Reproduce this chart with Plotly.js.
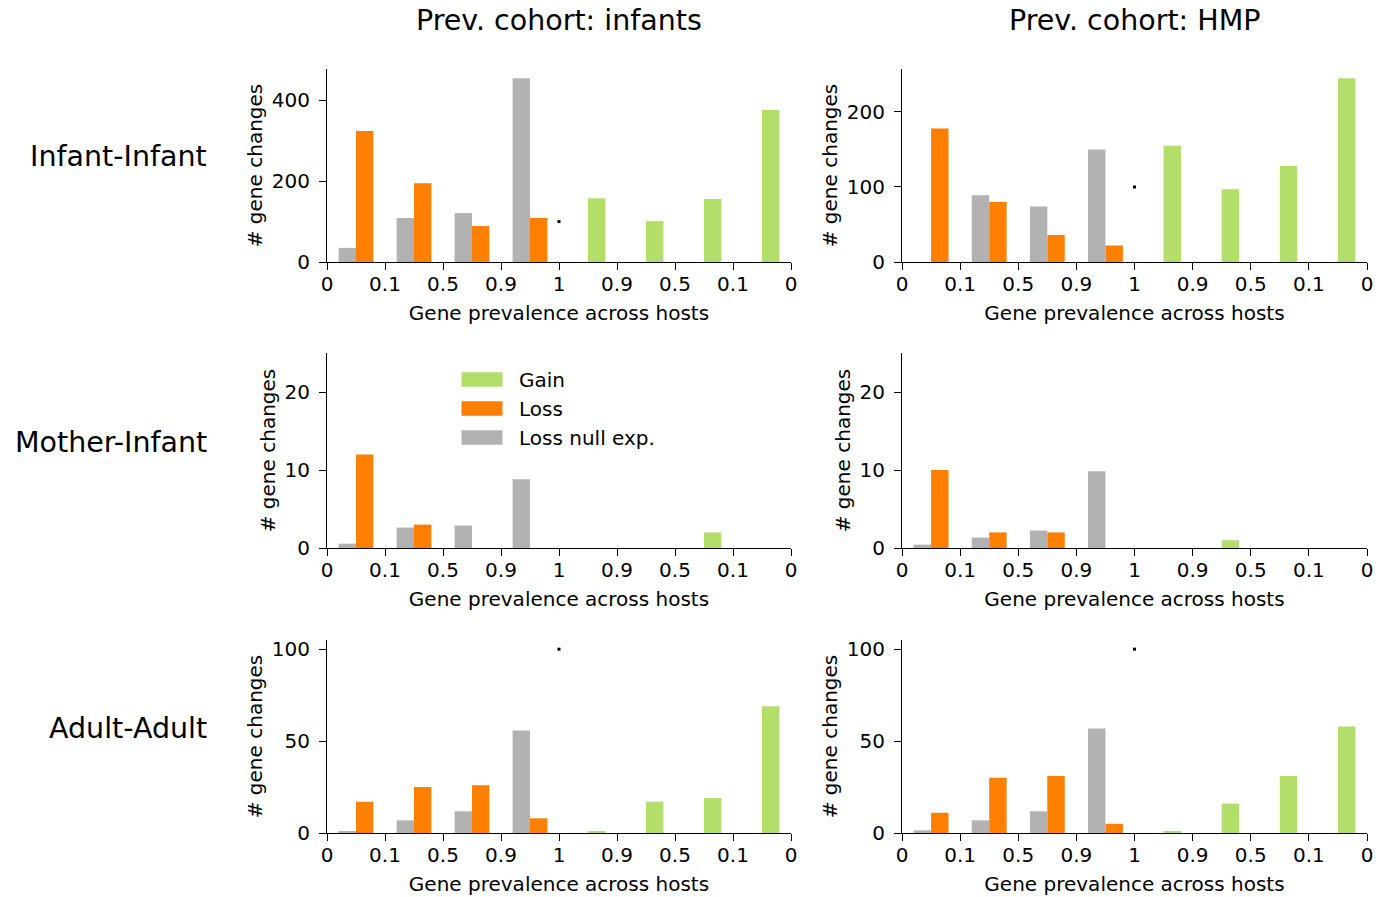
<!DOCTYPE html>
<html>
<head>
<meta charset="utf-8">
<script src="https://cdn.plot.ly/plotly-3.0.1.min.js"></script>
<style>
  html, body { margin: 0; padding: 0; background: #fff; }
  #chart { width: 1388px; height: 897px; }
</style>
</head>
<body>
<div id="chart"></div>
<script>
// Prevalence bins: tick labels run 0 -> 1 -> 0 (loss side, then gain side)
const binLabels = ['0', '0.1', '0.5', '0.9', '1', '0.9', '0.5', '0.1', '0'];
const binTicks = [0, 1, 2, 3, 4, 5, 6, 7, 8];
const lossBins = [0, 1, 2, 3];
const gainBins = [4, 5, 6, 7];

// Reference marker drawn in every panel
const markX = [4];
const markY = [100];

// Infant-Infant, prevalence cohort: infants
const gainII_inf = [158, 101, 156, 376];
const lossII_inf = [324, 195, 89, 109];
const nullII_inf = [35, 109, 121, 455];

// Infant-Infant, prevalence cohort: HMP
const gainII_hmp = [155, 97, 128, 245];
const lossII_hmp = [178, 80, 36, 22];
const nullII_hmp = [0, 89, 74, 150];

// Mother-Infant, prevalence cohort: infants
const gainMI_inf = [0, 0, 2, 0];
const lossMI_inf = [12, 3, 0, 0];
const nullMI_inf = [0.56, 2.62, 2.88, 8.82];

// Mother-Infant, prevalence cohort: HMP
const gainMI_hmp = [0, 1, 0, 0];
const lossMI_hmp = [10, 2, 2, 0];
const nullMI_hmp = [0.43, 1.33, 2.24, 9.85];

// Adult-Adult, prevalence cohort: infants
const gainAA_inf = [1, 17, 19, 69];
const lossAA_inf = [17, 25, 26, 8];
const nullAA_inf = [0.9, 6.9, 11.8, 55.8];

// Adult-Adult, prevalence cohort: HMP
const gainAA_hmp = [1, 16, 31, 58];
const lossAA_hmp = [11, 30, 31, 5];
const nullAA_hmp = [1.45, 6.9, 11.8, 56.9];

const colTitles = ['Prev. cohort: infants', 'Prev. cohort: HMP'];
const rowTitles = ['Infant-Infant', 'Mother-Infant', 'Adult-Adult'];

const COLORS = { gain: '#b3de69', loss: '#ff7f00', nul: '#b2b2b2' };
const FONT = 'DejaVu Sans';

// Panel table, row-major
const panels = [
  { gain: gainII_inf, loss: lossII_inf, nul: nullII_inf, dtick: 200, ymax: null },
  { gain: gainII_hmp, loss: lossII_hmp, nul: nullII_hmp, dtick: 100, ymax: null },
  { gain: gainMI_inf, loss: lossMI_inf, nul: nullMI_inf, dtick: 10, ymax: 25 },
  { gain: gainMI_hmp, loss: lossMI_hmp, nul: nullMI_hmp, dtick: 10, ymax: 25 },
  { gain: gainAA_inf, loss: lossAA_inf, nul: nullAA_inf, dtick: 50, ymax: null },
  { gain: gainAA_hmp, loss: lossAA_hmp, nul: nullAA_hmp, dtick: 50, ymax: null }
];

// Pixel frame of the subplot grid
const W = 1388, H = 897;
const colPx = [[327, 791], [902, 1367]];
const rowPx = [[69, 262], [353, 548], [640, 833]];

const BAR_W = 0.3;
const traces = [];
const layout = {
  width: W, height: H,
  margin: { l: 0, r: 0, t: 0, b: 0 },
  paper_bgcolor: '#fff', plot_bgcolor: '#fff',
  font: { family: FONT, size: 20, color: '#000' },
  barmode: 'overlay',
  showlegend: true,
  legend: {
    x: 445 / W, y: 1 - 360 / H, xanchor: 'left', yanchor: 'top',
    bgcolor: 'rgba(0,0,0,0)', borderwidth: 0,
    font: { family: FONT, size: 20, color: '#000' },
    itemwidth: 64, traceorder: 'normal'
  },
  annotations: [],
  shapes: []
};

panels.forEach((p, k) => {
  const r = Math.floor(k / 2), c = k % 2;
  const n = k + 1;
  const xa = n === 1 ? 'x' : 'x' + n;
  const ya = n === 1 ? 'y' : 'y' + n;
  const first = k === 0;

  traces.push({
    type: 'bar', name: 'Gain', legendgroup: 'gain', showlegend: first,
    x: gainBins, y: p.gain, offset: 0.5, width: BAR_W,
    marker: { color: COLORS.gain, line: { width: 0 } },
    xaxis: xa, yaxis: ya, hoverinfo: 'y'
  });
  traces.push({
    type: 'bar', name: 'Loss', legendgroup: 'loss', showlegend: first,
    x: lossBins, y: p.loss, offset: 0.5, width: BAR_W,
    marker: { color: COLORS.loss, line: { width: 0 } },
    xaxis: xa, yaxis: ya, hoverinfo: 'y'
  });
  traces.push({
    type: 'bar', name: 'Loss null exp.', legendgroup: 'nul', showlegend: first,
    x: lossBins, y: p.nul, offset: 0.2, width: BAR_W,
    marker: { color: COLORS.nul, line: { width: 0 } },
    xaxis: xa, yaxis: ya, hoverinfo: 'y'
  });
  traces.push({
    type: 'scatter', mode: 'markers', showlegend: false,
    x: markX, y: markY,
    marker: { symbol: 'square', size: 3, color: '#000', line: { width: 0 } },
    xaxis: xa, yaxis: ya, hoverinfo: 'skip'
  });

  // autoscaled top = 5% above the tallest mark
  const top = p.ymax !== null ? p.ymax :
    1.05 * Math.max(...p.gain, ...p.loss, ...p.nul, ...markY);

  const common = {
    showline: true, linecolor: '#000', linewidth: 1.1,
    ticks: 'outside', ticklen: 7, tickwidth: 1.1, tickcolor: '#000',
    showgrid: false, zeroline: false,
    tickfont: { family: FONT, size: 20, color: '#000' },
    fixedrange: true
  };

  // automargin on a side the axis does not sit on: keeps the title standoff
  // without letting the axis grow the page margins
  layout[n === 1 ? 'xaxis' : 'xaxis' + n] = Object.assign({}, common, {
    domain: [colPx[c][0] / W, colPx[c][1] / W],
    anchor: ya, range: [0, 8],
    tickmode: 'array', tickvals: binTicks, ticktext: binLabels,
    automargin: 'top', ticklabelstandoff: -3,
    title: { text: 'Gene prevalence across hosts', font: { family: FONT, size: 20, color: '#000' }, standoff: 10 }
  });
  layout[n === 1 ? 'yaxis' : 'yaxis' + n] = Object.assign({}, common, {
    domain: [1 - rowPx[r][1] / H, 1 - rowPx[r][0] / H],
    anchor: xa, range: [0, top],
    tickmode: 'linear', tick0: 0, dtick: p.dtick,
    automargin: 'right', ticklabelstandoff: 5,
    title: { text: '# gene changes', font: { family: FONT, size: 20, color: '#000' }, standoff: 3 }
  });
});

// Column headers
colTitles.forEach((t, c) => {
  layout.annotations.push({
    xref: 'paper', yref: 'paper',
    x: (colPx[c][0] + colPx[c][1]) / 2 / W, y: 1 - 20 / H,
    xanchor: 'center', yanchor: 'middle',
    text: t, showarrow: false,
    font: { family: FONT, size: 28.5, color: '#000' }
  });
});

// Row headers
rowTitles.forEach((t, r) => {
  layout.annotations.push({
    xref: 'paper', yref: 'paper',
    x: 209 / W, y: 1 - (157 + 285.5 * r) / H,
    xanchor: 'right', yanchor: 'middle',
    text: t, showarrow: false,
    font: { family: FONT, size: 28.5, color: '#000' }
  });
});

const gd = document.getElementById('chart');

// Wide, flat legend swatches
function widenSwatches() {
  gd.querySelectorAll('.legend .legendpoints path').forEach(el => {
    el.setAttribute('d', 'M20.5,7.2H-20.5V-7.2H20.5Z');
  });
}

Plotly.newPlot(gd, traces, layout, { displayModeBar: false }).then(() => {
  widenSwatches();
  gd.on('plotly_afterplot', widenSwatches);
});
</script>
</body>
</html>
